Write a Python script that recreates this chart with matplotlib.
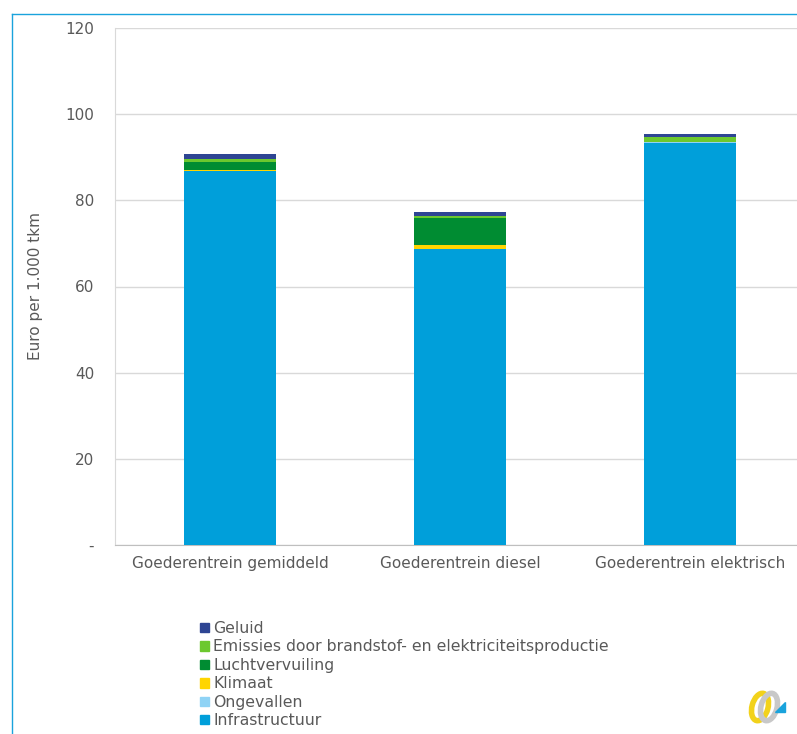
import matplotlib.pyplot as plt
from matplotlib.lines import Line2D
from matplotlib.patches import Patch, Ellipse, Polygon
import numpy as np

categories = ['Goederentrein gemiddeld', 'Goederentrein diesel', 'Goederentrein elektrisch']
series_names = ['Infrastructuur', 'Ongevallen', 'Klimaat', 'Luchtvervuiling',
                'Emissies door brandstof- en elektriciteitsproductie', 'Geluid']
infrastructuur = [86.7, 68.6, 93.4]
ongevallen = [0.05, 0.05, 0.05]
klimaat = [0.2, 0.9, 0.0]
luchtvervuiling = [1.9, 6.3, 0.1]
emissies = [0.7, 0.4, 1.1]
geluid = [1.1, 1.0, 0.8]
yticks = [0, 20, 40, 60, 80, 100, 120]
ytick_labels = ['-', '20', '40', '60', '80', '100', '120']

colors = ['#009FDA', '#8FD3F5', '#FFD500', '#008C32', '#6CC82E', '#2E4593']
text_col = '#595959'

plt.rcParams['font.family'] = ['DejaVu Sans']

fig = plt.figure(figsize=(7.97, 7.34), dpi=100)
ax = fig.add_axes([115 / 797, 1 - 545 / 734, 690 / 797, 517 / 734])

x = np.arange(len(categories))
bottom = np.zeros(len(categories))
for name, vals, c in zip(series_names,
                         [infrastructuur, ongevallen, klimaat, luchtvervuiling, emissies, geluid],
                         colors):
    ax.bar(x, vals, width=0.4, bottom=bottom, color=c, label=name, zorder=3)
    bottom += np.array(vals)

ax.set_xlim(-0.5, 2.5)
ax.set_ylim(0, 120)
ax.set_yticks(yticks)
ax.set_yticklabels(ytick_labels)
ax.set_xticks(x)
ax.set_xticklabels(categories)
ax.tick_params(axis='both', length=0, colors=text_col, labelsize=11)
ax.tick_params(axis='x', pad=8)
ax.tick_params(axis='y', pad=15)
ax.grid(axis='y', color='#D9D9D9', linewidth=1, zorder=0)
for s in ['top', 'right']:
    ax.spines[s].set_visible(False)
ax.spines['left'].set_color('#D9D9D9')
ax.spines['bottom'].set_color('#BFBFBF')
ax.set_ylabel('Euro per 1.000 tkm', color=text_col, fontsize=11, labelpad=16)

handles = [Patch(color=c) for c in colors][::-1]
labels = series_names[::-1]
fig.legend(handles, labels, loc='upper left', bbox_to_anchor=(200 / 797, 1 - 621 / 734),
           frameon=False, fontsize=11.3, labelcolor=text_col, handlelength=0.55, handleheight=0.55,
           handletextpad=0.3, labelspacing=0.22, borderaxespad=0, borderpad=0)

# light blue frame along the top and left edge
fig.add_artist(Line2D([12 / 797, 12 / 797], [0, 1 - 14 / 734], transform=fig.transFigure,
                      color='#1AA3DC', linewidth=1))
fig.add_artist(Line2D([12 / 797, 1], [1 - 14 / 734, 1 - 14 / 734], transform=fig.transFigure,
                      color='#1AA3DC', linewidth=1))

# small logo in the bottom right corner
logo = fig.add_axes([746 / 797, 1 - 724 / 734, 46 / 797, 36 / 734])
logo.set_xlim(0, 46)
logo.set_ylim(0, 36)
logo.axis('off')
logo.add_patch(Ellipse((14, 17), 16, 28, angle=-15, fill=False, edgecolor='#F2D21B', linewidth=4))
logo.add_patch(Ellipse((23, 17), 16, 28, angle=-15, fill=False, edgecolor='#C8C8C8', linewidth=4))
logo.add_patch(Polygon([[29, 12], [39, 12], [39, 22]], color='#1AA3DC'))

fig.savefig('out.png', dpi=100, facecolor='white')
